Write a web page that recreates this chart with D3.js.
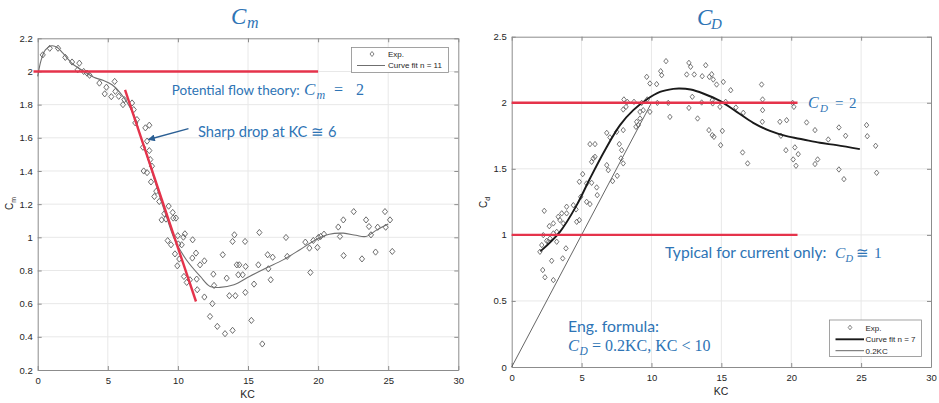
<!DOCTYPE html>
<html><head><meta charset="utf-8">
<script src="https://cdn.jsdelivr.net/npm/d3@7"></script>
<style>body{margin:0;background:#fff}svg{display:block}</style>
</head><body><svg id="c" width="939" height="403"></svg>
<script>
// ---------- Data: left panel (Cm) ----------
const cmKC = [0.36,0.86,1.45,1.97,2.45,2.97,2.85,3.28,3.52,3.7,4.4,4.9,5.49,4.78,5.25,5.54,5.78,6.08,6.18,6.73,6.85,6.96,7.08,7.68,7.96,7.8,7.51,7.96,8.03,8.15,7.56,7.8,8.08,8.46,8.32,8.67,9.34,9.03,9.63,8.84,9.15,9.67,9.86,9.27,9.51,9.99,10.03,10.27,10.39,10.5,11.05,9.79,10.1,9.96,10.43,10.63,10.86,11.03,11.29,11.34,11.38,11.58,11.89,11.89,12.46,12.29,12.53,12.58,12.81,13.2,13.36,13.48,13.67,13.9,14.03,13.9,14.1,14.2,14.38,14.31,14.62,14.79,14.83,14.81,15.24,15.43,15.74,15.81,16.02,16.4,16.45,16.76,16.62,17.71,17.8,19.09,19.38,19.45,19.66,19.95,20.02,20.18,20.42,21.44,21.56,21.8,21.82,22.54,23.13,23.42,23.63,23.77,24.1,24.25,24.77,24.82,25.13,25.29];
const cmVal = [2.10,2.14,2.14,2.085,2.057,2.05,2.01,2.0,1.99,1.977,1.93,1.905,1.94,1.865,1.848,1.88,1.85,1.80,1.83,1.81,1.77,1.69,1.71,1.66,1.676,1.58,1.543,1.523,1.469,1.429,1.40,1.39,1.334,1.278,1.246,1.216,1.188,1.142,1.15,1.105,1.11,1.116,1.116,0.98,0.955,1.01,0.96,0.955,1.001,1.021,0.985,0.90,0.869,0.828,0.764,0.728,0.744,0.875,0.905,0.748,0.684,0.834,0.858,0.64,0.60,0.523,0.778,0.71,0.463,0.895,0.419,0.754,0.648,0.975,1.015,0.439,0.648,0.834,0.834,0.774,0.774,0.975,0.824,0.668,0.499,0.718,0.834,1.029,0.357,0.895,0.81,0.88,0.744,0.999,0.885,0.971,0.935,0.788,0.981,0.939,0.999,1.005,1.019,1.062,1.005,1.105,0.89,1.155,0.87,1.105,1.065,1.015,0.911,1.061,1.155,1.061,1.105,0.915];
const cmFitKC = [0,0.25,0.55,1.0,1.4,1.8,2.5,3.3,4.0,4.7,5.3,5.9,6.4,6.9,7.3,7.8,8.5,9.2,9.8,10.6,11.6,12.3,13.0,14.0,15.1,16.3,17.5,18.7,19.9,20.8,21.8,22.7,23.4,24.2,25.0];
const cmFitVal = [1.97,2.07,2.13,2.155,2.145,2.11,2.045,2.0,1.965,1.945,1.92,1.87,1.81,1.73,1.62,1.49,1.30,1.12,0.98,0.865,0.764,0.704,0.698,0.714,0.764,0.815,0.864,0.925,0.989,1.019,1.025,1.012,1.005,1.045,1.08];
const cmRefKC = [-0.3, 20];            // potential flow Cm = 2
const cmRefVal = [2, 2];
const cmDropKC = [6.23, 11.29];        // sharp drop line
const cmDropVal = [1.889, 0.613];
const cmXTicks = [0,5,10,15,20,25,30];
const cmYTicks = [0.2,0.4,0.6,0.8,1,1.2,1.4,1.6,1.8,2,2.2];

// ---------- Data: right panel (CD) ----------
const cdKC = [11.04,10.66,10.73,9.66,9.89,10.37,8.03,8.27,8.75,9.3,9.7,10.42,11.2,11.32,7.98,8.18,9.89,9.41,9.18,9.18,8.94,9.06,8.89,6.8,7.03,7.51,7.98,7.7,7.87,7.98,7.82,5.6,5.96,5.84,5.96,5.72,6.8,6.91,7.55,7.22,5.08,4.84,5.36,5.72,6.08,6.12,4.94,5.36,5.6,4.41,3.93,4.6,3.58,3.93,4.65,4.84,3.33,3.45,3.69,2.98,2.69,2.33,3.22,2.98,2.26,2.74,2.5,2.62,3.22,2.15,3.88,3.65,2.86,2.22,2.38,2.98,2.02,12.68,12.8,12.52,13.06,13.88,13.63,14.14,14.31,14.42,14.66,15.14,15.67,12.92,13.59,12.68,14.35,14.38,14.9,15.31,16.04,16.57,13.3,14.11,14.35,14.47,15.07,14.95,16.52,16.88,17.88,17.95,17.95,17.93,19.19,19.67,19.26,20.1,20.19,19.62,20.26,20.5,20.14,20.34,21.1,21.7,21.89,21.7,22.65,23.41,23.89,23.41,23.77,25.39,25.44,26.04,26.11];
const cdVal = [2.315,2.239,2.209,2.196,2.146,2.141,2.025,2.007,2.007,1.999,2.025,1.999,1.999,1.893,1.949,1.969,1.931,1.944,1.931,1.881,1.856,1.831,1.818,1.772,1.738,1.78,1.793,1.687,1.641,1.541,1.579,1.687,1.687,1.579,1.591,1.553,1.528,1.49,1.447,1.407,1.46,1.402,1.389,1.394,1.359,1.301,1.288,1.25,1.233,1.225,1.213,1.193,1.163,1.163,1.099,1.112,1.137,1.112,1.087,1.087,1.066,1.182,1.023,1.011,0.998,0.973,0.955,0.948,0.948,0.923,0.898,0.822,0.804,0.734,0.679,0.658,0.872,2.302,2.272,2.214,2.214,2.284,2.201,2.196,2.216,2.176,2.138,2.158,2.095,2.045,2.002,1.961,2.02,1.995,1.969,2.007,1.964,1.924,1.881,1.793,1.755,1.742,1.787,1.679,1.624,1.541,2.138,2.025,1.944,1.856,1.856,1.868,1.75,1.999,1.969,1.641,1.662,1.611,1.571,1.523,1.851,1.793,1.571,1.536,1.722,1.813,1.75,1.495,1.422,1.831,1.747,1.674,1.47];
const cdFitKC = [2.05,3.45,4.65,5.6,6.67,7.75,8.7,9.66,10.61,11.56,12.0,12.8,13.7,14.9,16.1,17.28,18.48,19.67,20.86,22.05,23.25,24.91];
const cdFitVal = [0.875,1.023,1.225,1.427,1.641,1.831,1.944,2.025,2.082,2.105,2.108,2.1,2.07,2.014,1.931,1.848,1.787,1.747,1.722,1.697,1.679,1.649];
const cdEngKC = [0, 9.95];             // 0.2KC line
const cdEngVal = [0, 1.99];
const cdRef2KC = [0, 20.45];
const cdRef2Val = [2, 2];
const cdRef1KC = [0, 20.45];
const cdRef1Val = [1, 1];
const cdXTicks = [0,5,10,15,20,25,30];
const cdYTicks = [0,0.5,1,1.5,2,2.5];

// ---------- Styles ----------
const AX = "#8c8c8c", GRID = "#e8e8e8", TXT = "#262626";
const RED = "#e5334b", BLUE = "#2e74b5", ARROW = "#2b5f94";
const SANS = "'Liberation Sans', Arial, sans-serif";
const LAT = "Lato, 'Open Sans', sans-serif";
const SERIF = "'Liberation Serif', 'DejaVu Serif', serif";

const svg = d3.select("#c");
svg.append("rect").attr("width",939).attr("height",403).attr("fill","#fff");

const diamond = (w,h) => ({ draw(ctx){ ctx.moveTo(0,-h); ctx.lineTo(w,0); ctx.lineTo(0,h); ctx.lineTo(-w,0); ctx.closePath(); } });

function panel(o) {
  const g = svg.append("g");
  const x = d3.scaleLinear().domain([0,30]).range(o.xr);
  const y = d3.scaleLinear().domain(o.yd).range(o.yr);
  g.append("g").selectAll("line").data(o.xt.slice(1,-1)).join("line")
    .attr("x1",d=>x(d)).attr("x2",d=>x(d)).attr("y1",o.yr[0]).attr("y2",o.yr[1])
    .attr("stroke",GRID).attr("stroke-width",1);
  g.append("g").selectAll("line").data(o.yt.slice(1,-1)).join("line")
    .attr("y1",d=>y(d)).attr("y2",d=>y(d)).attr("x1",o.xr[0]).attr("x2",o.xr[1])
    .attr("stroke",GRID).attr("stroke-width",1);
  const fmt = d3.format("~g");
  const ab = g.append("g").attr("transform",`translate(0,${o.yr[0]})`)
    .call(d3.axisBottom(x).tickValues(o.xt).tickFormat(fmt).tickSize(-4).tickSizeOuter(0).tickPadding(7));
  const al = g.append("g").attr("transform",`translate(${o.xr[0]},0)`)
    .call(d3.axisLeft(y).tickValues(o.yt).tickFormat(fmt).tickSize(-4).tickSizeOuter(0).tickPadding(5));
  const at = g.append("g").attr("transform",`translate(0,${o.yr[1]})`)
    .call(d3.axisTop(x).tickValues(o.xt).tickFormat("").tickSize(-4).tickSizeOuter(0));
  const ar = g.append("g").attr("transform",`translate(${o.xr[1]},0)`)
    .call(d3.axisRight(y).tickValues(o.yt).tickFormat("").tickSize(-4).tickSizeOuter(0));
  [ab,al,at,ar].forEach(a=>{
    a.select(".domain").attr("stroke",AX);
    a.selectAll(".tick line").attr("stroke",AX);
    a.selectAll("text").attr("fill",TXT).attr("font-size",9.5).attr("font-family",SANS);
  });
  return {g,x,y};
}

// ---------- Left panel ----------
const L = panel({xr:[37.7,458.3], yd:[0.2,2.2], yr:[370,38.3], xt:cmXTicks, yt:cmYTicks});
L.g.append("g").selectAll("path").data(cmKC).join("path")
  .attr("transform",(d,i)=>`translate(${L.x(d)},${L.y(cmVal[i])})`)
  .attr("d", d3.symbol(diamond(2.6,3.1)))
  .attr("fill","none").attr("stroke","#5e5e5e").attr("stroke-width",0.9);
L.g.append("path").datum(cmFitKC)
  .attr("d", d3.line().x(d=>L.x(d)).y((d,i)=>L.y(cmFitVal[i])).curve(d3.curveCatmullRom.alpha(0.5)))
  .attr("fill","none").attr("stroke","#6f6f6f").attr("stroke-width",1.1);
const redLine = (P, xs, ys) => P.g.append("path").datum(xs)
  .attr("d", d3.line().x(d=>P.x(d)).y((d,i)=>P.y(ys[i])))
  .attr("fill","none").attr("stroke",RED).attr("stroke-width",2.4);
redLine(L, cmRefKC, cmRefVal);
redLine(L, cmDropKC, cmDropVal);

const lg = L.g.append("g");
lg.append("rect").attr("x",351.5).attr("y",47.5).attr("width",97).attr("height",25).attr("fill","#fff").attr("stroke",AX).attr("stroke-width",0.8);
lg.append("path").attr("transform","translate(372,54)").attr("d",d3.symbol(diamond(2,2.5))).attr("fill","none").attr("stroke","#5e5e5e").attr("stroke-width",0.8);
lg.append("line").attr("x1",357).attr("x2",385).attr("y1",65.5).attr("y2",65.5).attr("stroke","#6f6f6f").attr("stroke-width",1);
lg.append("text").attr("x",388).attr("y",57).text("Exp.").attr("font-size",8).attr("font-family",SANS).attr("fill",TXT);
lg.append("text").attr("x",388).attr("y",68.3).text("Curve fit n = 11").attr("font-size",8).attr("font-family",SANS).attr("fill",TXT);

svg.append("text").attr("x",247.5).attr("y",398).attr("text-anchor","middle").text("KC").attr("font-size",10.5).attr("font-family",SANS).attr("fill",TXT);
const ylL = svg.append("text").attr("transform","translate(13,210) rotate(-90)").attr("font-family",SANS).attr("fill",TXT).attr("font-size",10);
ylL.append("tspan").text("C"); ylL.append("tspan").attr("dy",2.5).attr("font-size",7).text("m");

// ---------- Right panel ----------
const R = panel({xr:[511.7,931], yd:[0,2.5], yr:[367,36.7], xt:cdXTicks, yt:cdYTicks});
R.g.append("path").datum(cdEngKC)
  .attr("d", d3.line().x(d=>R.x(d)).y((d,i)=>R.y(cdEngVal[i])))
  .attr("fill","none").attr("stroke","#555").attr("stroke-width",0.9);
R.g.append("g").selectAll("path").data(cdKC).join("path")
  .attr("transform",(d,i)=>`translate(${R.x(d)},${R.y(cdVal[i])})`)
  .attr("d", d3.symbol(diamond(2.2,2.7)))
  .attr("fill","none").attr("stroke","#5e5e5e").attr("stroke-width",0.85);
R.g.append("path").datum(cdFitKC)
  .attr("d", d3.line().x(d=>R.x(d)).y((d,i)=>R.y(cdFitVal[i])).curve(d3.curveCatmullRom.alpha(0.5)))
  .attr("fill","none").attr("stroke","#1a1a1a").attr("stroke-width",1.9);
redLine(R, cdRef2KC, cdRef2Val);
redLine(R, cdRef1KC, cdRef1Val);

const rg = R.g.append("g");
rg.append("rect").attr("x",829.5).attr("y",320).attr("width",92).attr("height",36.5).attr("fill","#fff").attr("stroke",AX).attr("stroke-width",0.8);
rg.append("path").attr("transform","translate(850,327.5)").attr("d",d3.symbol(diamond(1.8,2.3))).attr("fill","none").attr("stroke","#5e5e5e").attr("stroke-width",0.8);
rg.append("line").attr("x1",835.5).attr("x2",864).attr("y1",339.3).attr("y2",339.3).attr("stroke","#1a1a1a").attr("stroke-width",1.9);
rg.append("line").attr("x1",835.5).attr("x2",864).attr("y1",350.7).attr("y2",350.7).attr("stroke","#555").attr("stroke-width",0.9);
[["Exp.",330.8],["Curve fit n = 7",342.2],["0.2KC",353.6]].forEach(([t,yy])=>
  rg.append("text").attr("x",865.5).attr("y",yy).text(t).attr("font-size",8).attr("font-family",SANS).attr("fill",TXT));

svg.append("text").attr("x",721).attr("y",395).attr("text-anchor","middle").text("KC").attr("font-size",10.5).attr("font-family",SANS).attr("fill",TXT);
const ylR = svg.append("text").attr("transform","translate(487,208) rotate(-90)").attr("font-family",SANS).attr("fill",TXT).attr("font-size",10);
ylR.append("tspan").text("C"); ylR.append("tspan").attr("dy",2.5).attr("font-size",7).text("d");

// ---------- Titles ----------
function mathPiece(x,y,t,size,italic,fill,font){
  return svg.append("text").attr("x",x).attr("y",y).text(t).attr("font-size",size)
    .attr("font-style",italic?"italic":"normal").attr("font-family",font||SERIF).attr("fill",fill||BLUE);
}
mathPiece(231,23.5,"C",23,true);
mathPiece(247,28,"m",16,true);
mathPiece(697,25,"C",23,true);
mathPiece(711,29,"D",15,true);

// ---------- Annotations ----------
svg.append("text").attr("x",171.7).attr("y",95).text("Potential flow theory:").attr("font-size",13.5).attr("font-family",LAT).attr("fill",BLUE);
mathPiece(304,95,"C",17,true);
mathPiece(316.5,98.5,"m",12,true);
mathPiece(334,95,"=",16,false);
mathPiece(356,95,"2",16,false);

svg.append("text").attr("x",198).attr("y",136.5).text("Sharp drop at KC \u2245 6").attr("font-size",14.7).attr("font-family",LAT).attr("fill",BLUE);
svg.append("defs").append("marker").attr("id","ah").attr("viewBox","0 0 10 10").attr("refX",9).attr("refY",5)
  .attr("markerWidth",8).attr("markerHeight",7).attr("orient","auto").attr("markerUnits","userSpaceOnUse")
  .append("path").attr("d","M0,0 L10,5 L0,10 Z").attr("fill",ARROW);
svg.append("line").attr("x1",188.5).attr("y1",128.7).attr("x2",148.5).attr("y2",139.5)
  .attr("stroke",ARROW).attr("stroke-width",1.3).attr("marker-end","url(#ah)");

mathPiece(808,108.3,"C",16,true);
mathPiece(820,112,"D",11,true);
mathPiece(835,108.3,"=",15,false);
mathPiece(849,108.3,"2",15,false);

svg.append("text").attr("x",665).attr("y",258.3).text("Typical for current only:").attr("font-size",15.6).attr("font-family",LAT).attr("fill",BLUE);
mathPiece(835,258.3,"C",15.5,true);
mathPiece(845.5,262,"D",10.5,true);
mathPiece(856,258.3,"\u2245",15,false);
mathPiece(874,258.3,"1",15.5,false);

svg.append("text").attr("x",568).attr("y",331.5).text("Eng. formula:").attr("font-size",15.8).attr("font-family",LAT).attr("fill",BLUE);
mathPiece(568,351,"C",16.5,true);
mathPiece(579.5,355,"D",11.5,true);
mathPiece(592,351,"= 0.2KC, KC < 10",16,false);
</script></body></html>
